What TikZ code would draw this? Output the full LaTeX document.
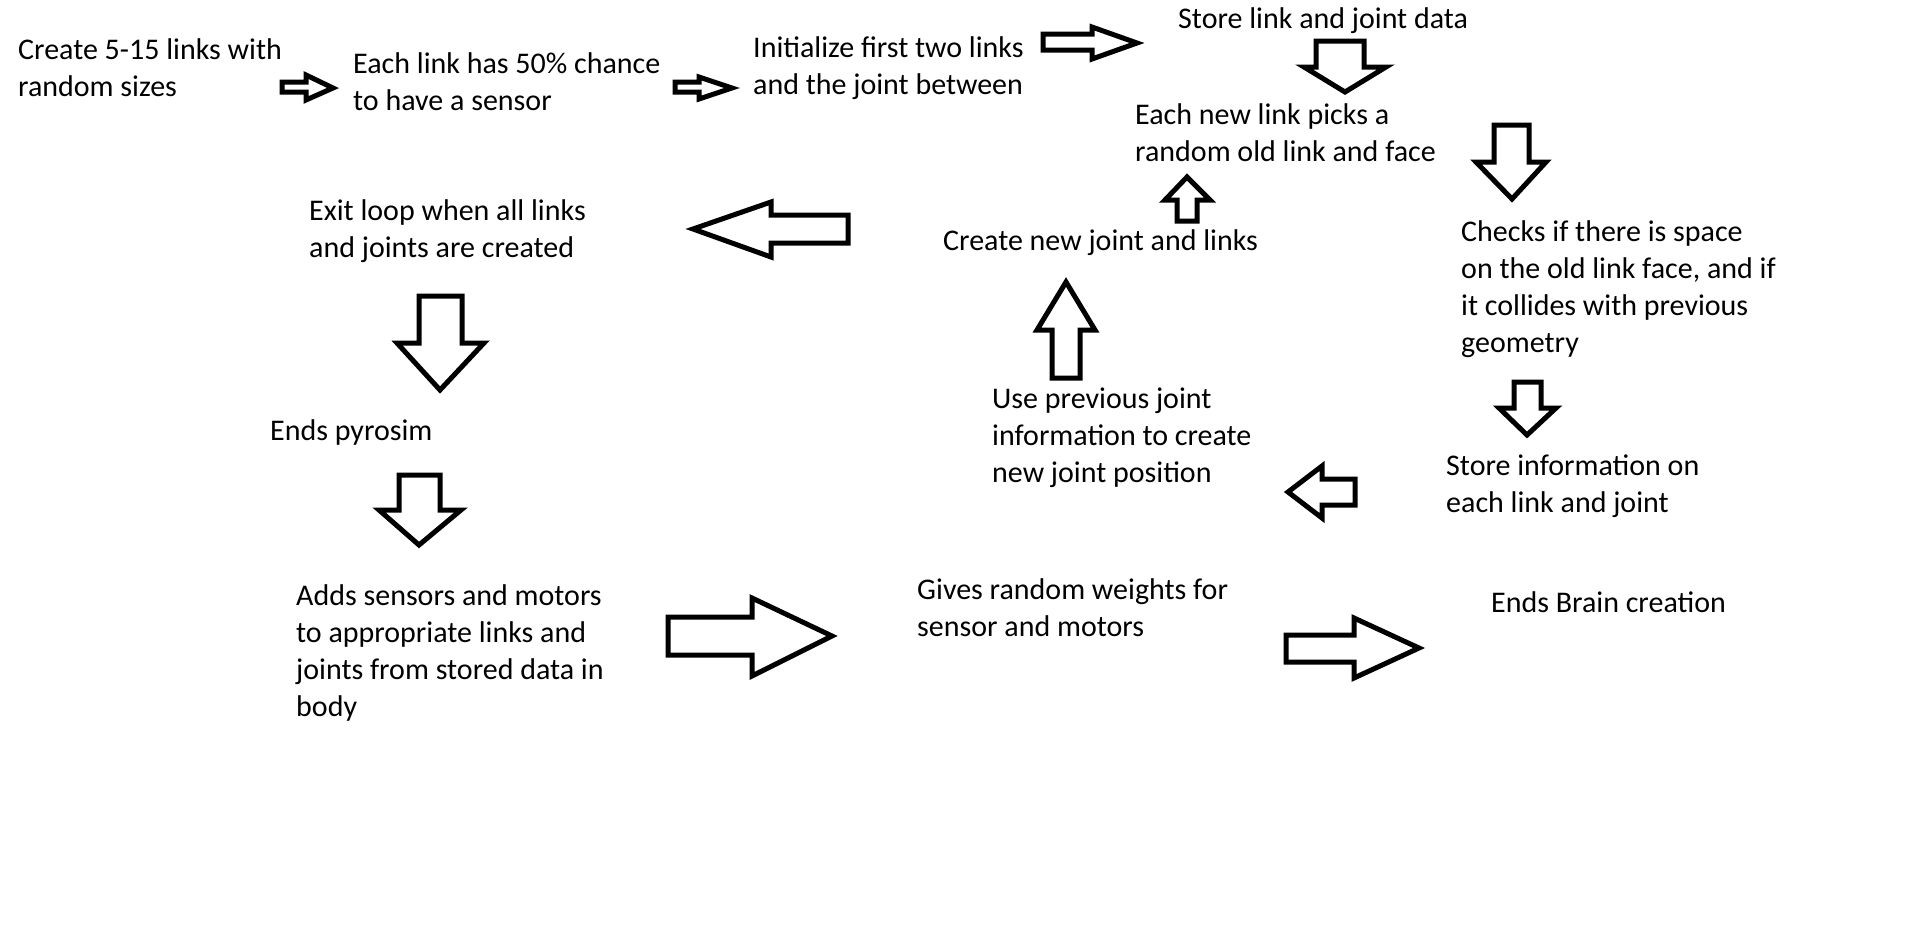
\documentclass[tikz,border=0pt]{standalone}
\usepackage{fontspec}
\setmainfont{Carlito}
\begin{document}
\begin{tikzpicture}[x=1pt,y=-1pt,
  txt/.style={anchor=base west,inner sep=0pt,font=\fontsize{30}{37}\selectfont},
  blockarrow/.style={draw=black,line width=5pt,line join=miter,fill=white}]
\useasboundingbox[fill=white] (0,0) rectangle (1914,935);
\newcommand\lines[1]{\begin{tabular}[t]{@{}l@{}}#1\end{tabular}}
% text blocks
\begin{scope}
\clip (0,0) rectangle (280,200);
\node[txt] (create) at (18,59) {\lines{Create 5-15 links with\\random sizes}};
\end{scope}
\node[txt] (each) at (353,73) {\lines{Each link has 50\% chance\\to have a sensor}};
\node[txt] (init) at (753,57) {\lines{Initialize first two links\\and the joint between}};
\node[txt] (store) at (1178,28) {\lines{Store link and joint data}};
\node[txt] (pick) at (1135,124) {\lines{Each new link picks a\\random old link and face}};
\node[txt] (exit) at (309,220) {\lines{Exit loop when all links\\and joints are created}};
\node[txt] (newj) at (943,250) {\lines{Create new joint and links}};
\node[txt] (check) at (1461,241) {\lines{Checks if there is space\\on the old link face, and if\\it collides with previous\\geometry}};
\node[txt] (endp) at (270,440) {\lines{Ends pyrosim}};
\node[txt] (usep) at (992,408) {\lines{Use previous joint\\information to create\\new joint position}};
\node[txt] (storei) at (1446,475) {\lines{Store information on\\each link and joint}};
\node[txt] (adds) at (296,605) {\lines{Adds sensors and motors\\to appropriate links and\\joints from stored data in\\body}};
\node[txt] (gives) at (917,599) {\lines{Gives random weights for\\sensor and motors}};
\node[txt] (endb) at (1491,612) {\lines{Ends Brain creation}};
% right block arrows
\draw[blockarrow] (282,82) -- (306,82) -- (306,75) -- (333,88) -- (306,100) -- (306,92) -- (282,92) -- cycle;
\draw[blockarrow] (675,82) -- (699,82) -- (699,77) -- (732,88) -- (699,99) -- (699,92) -- (675,92) -- cycle;
\draw[blockarrow] (1043,34) -- (1092,34) -- (1092,27) -- (1137,43) -- (1092,59) -- (1092,50) -- (1043,50) -- cycle;
\draw[blockarrow] (668,617) -- (752,617) -- (752,598) -- (832,636) -- (752,676) -- (752,655) -- (668,655) -- cycle;
\draw[blockarrow] (1286,635) -- (1354,635) -- (1354,618) -- (1419,648) -- (1354,678) -- (1354,662) -- (1286,662) -- cycle;
% left block arrows
\draw[blockarrow] (848,215) -- (771,215) -- (771,202) -- (693,229) -- (771,257) -- (771,243) -- (848,243) -- cycle;
\draw[blockarrow] (1355,479) -- (1322,479) -- (1322,466) -- (1288,492) -- (1322,518) -- (1322,505) -- (1355,505) -- cycle;
% down block arrows
\draw[blockarrow] (1316,41) -- (1364,41) -- (1364,67) -- (1386,67) -- (1345,92) -- (1304,67) -- (1316,67) -- cycle;
\draw[blockarrow] (1494,125) -- (1529,125) -- (1529,162) -- (1546,162) -- (1512,199) -- (1476,162) -- (1494,162) -- cycle;
\draw[blockarrow] (1514,382) -- (1541,382) -- (1541,408) -- (1556,408) -- (1527,435) -- (1499,408) -- (1514,408) -- cycle;
\draw[blockarrow] (419,296) -- (462,296) -- (462,343) -- (484,343) -- (440,390) -- (397,343) -- (419,343) -- cycle;
\draw[blockarrow] (399,475) -- (440,475) -- (440,510) -- (461,510) -- (419,545) -- (379,510) -- (399,510) -- cycle;
% up block arrows
\draw[blockarrow] (1177,221) -- (1197,221) -- (1197,200) -- (1210,200) -- (1187,177) -- (1165,200) -- (1177,200) -- cycle;
\draw[blockarrow] (1052,378) -- (1080,378) -- (1080,330) -- (1095,330) -- (1066,282) -- (1037,330) -- (1052,330) -- cycle;
\end{tikzpicture}
\end{document}
